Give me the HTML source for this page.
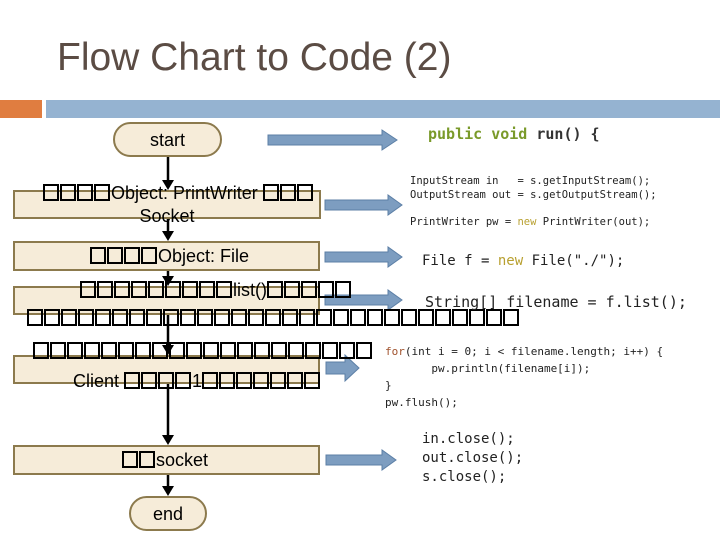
<!DOCTYPE html>
<html><head><meta charset="utf-8"><style>
body{margin:0;width:720px;height:540px;background:#fff;position:relative;overflow:hidden;font-family:"Liberation Sans",sans-serif}
.a{position:absolute;white-space:pre}
.box{position:absolute;background:#f6ecd9;border:2.5px solid #8c7a4d;box-sizing:border-box}
.t{position:absolute;white-space:nowrap;font-size:18px;color:#000;text-align:center;line-height:20px}
.l{text-align:left}
i{display:inline-block;box-sizing:border-box;width:16px;height:17px;border:2px solid #000;margin-right:1px;vertical-align:-2px}
.m{position:absolute;white-space:pre;font-family:"DejaVu Sans Mono","Liberation Mono",monospace;color:#222}
</style></head><body>
<div class="a" style="left:57px;top:36px;font-size:39px;color:#5b4c44">Flow Chart to Code (2)</div>
<div class="a" style="left:0;top:100px;width:42px;height:18px;background:#e07d40"></div>
<div class="a" style="left:46px;top:100px;width:674px;height:18px;background:#95b3d1"></div>

<svg class="a" style="left:0;top:0" width="720" height="540">
<g fill="#7d9dc0" stroke="#5c7fa6" stroke-width="1">
<path d="M268,135 H382 V130 L397,140 L382,150 V145 H268Z"/>
<path d="M325,200 H388 V195 L402,205 L388,215 V210 H325Z"/>
<path d="M325,252 H388 V247 L402,257 L388,267 V262 H325Z"/>
<path d="M325,295 H388 V290 L402,300 L388,310 V305 H325Z"/>
<path d="M326,362 H345 V355 L359,368 L345,381 V374 H326Z"/>
<path d="M326,455 H382 V450 L396,460 L382,470 V465 H326Z"/>
</g>
</svg>

<div class="box" style="left:113px;top:122px;width:109px;height:35px;border-radius:18px"></div>
<div class="box" style="left:13px;top:190px;width:308px;height:29px"></div>
<div class="box" style="left:13px;top:241px;width:307px;height:30px"></div>
<div class="box" style="left:13px;top:286px;width:307px;height:29px"></div>
<div class="box" style="left:13px;top:355px;width:307px;height:29px"></div>
<div class="box" style="left:13px;top:445px;width:307px;height:30px"></div>
<div class="box" style="left:129px;top:496px;width:78px;height:35px;border-radius:18px"></div>

<svg class="a" style="left:0;top:0" width="720" height="540">
<g stroke="#000" stroke-width="2.5">
<line x1="168" y1="157" x2="168" y2="182"/>
<line x1="168" y1="219" x2="168" y2="233"/>
<line x1="168" y1="271" x2="168" y2="278"/>
<line x1="168" y1="315" x2="168" y2="347"/>
<line x1="168" y1="384" x2="168" y2="437"/>
<line x1="168" y1="475" x2="168" y2="488"/>
</g>
<g fill="#000">
<path d="M162,180 L174,180 L168,190Z"/>
<path d="M162,231 L174,231 L168,241Z"/>
<path d="M162,276 L174,276 L168,286Z"/>
<path d="M162,345 L174,345 L168,355Z"/>
<path d="M162,435 L174,435 L168,445Z"/>
<path d="M162,486 L174,486 L168,496Z"/>
</g>
</svg>

<div class="t" style="left:113px;top:130px;width:109px">start</div>
<div class="t l" style="left:43px;top:183px"><i></i><i></i><i></i><i></i>Object: PrintWriter <i></i><i></i><i></i></div>
<div class="t" style="left:0;top:206px;width:334px">Socket</div>
<div class="t l" style="left:90px;top:246px"><i></i><i></i><i></i><i></i>Object: File</div>
<div class="t l" style="left:80px;top:280px"><i></i><i></i><i></i><i></i><i></i><i></i><i></i><i></i><i></i>list()<i></i><i></i><i></i><i></i><i></i></div>
<div class="t l" style="left:27px;top:308px"><i></i><i></i><i></i><i></i><i></i><i></i><i></i><i></i><i></i><i></i><i></i><i></i><i></i><i></i><i></i><i></i><i></i><i></i><i></i><i></i><i></i><i></i><i></i><i></i><i></i><i></i><i></i><i></i><i></i></div>
<div class="t l" style="left:33px;top:341px"><i></i><i></i><i></i><i></i><i></i><i></i><i></i><i></i><i></i><i></i><i></i><i></i><i></i><i></i><i></i><i></i><i></i><i></i><i></i><i></i></div>
<div class="t l" style="left:73px;top:371px">Client <i></i><i></i><i></i><i></i>1<i></i><i></i><i></i><i></i><i></i><i></i><i></i></div>
<div class="t l" style="left:122px;top:450px"><i></i><i></i>socket</div>
<div class="t" style="left:129px;top:504px;width:78px">end</div>

<div class="m" style="left:428px;top:125px;font-size:15px;font-weight:bold;color:#333"><span style="color:#7a9a2a">public void</span> run() {</div>
<div class="m" style="left:410px;top:175px;font-size:10.5px;line-height:13.5px">InputStream in   = s.getInputStream();
OutputStream out = s.getOutputStream();

PrintWriter pw = <span style="color:#b8a030">new</span> PrintWriter(out);</div>
<div class="m" style="left:422px;top:253px;font-size:14px">File f = <span style="color:#b8a030">new</span> File("./");</div>
<div class="m" style="left:425px;top:293px;font-size:15px">String[] filename = f.list();</div>
<div class="m" style="left:385px;top:343px;font-size:11px;line-height:17px"><span style="color:#a0522d">for</span>(int i = 0; i &lt; filename.length; i++) {
       pw.println(filename[i]);
}
pw.flush();</div>
<div class="m" style="left:422px;top:430px;font-size:14px;line-height:19px">in.close();
out.close();
s.close();</div>
</body></html>
